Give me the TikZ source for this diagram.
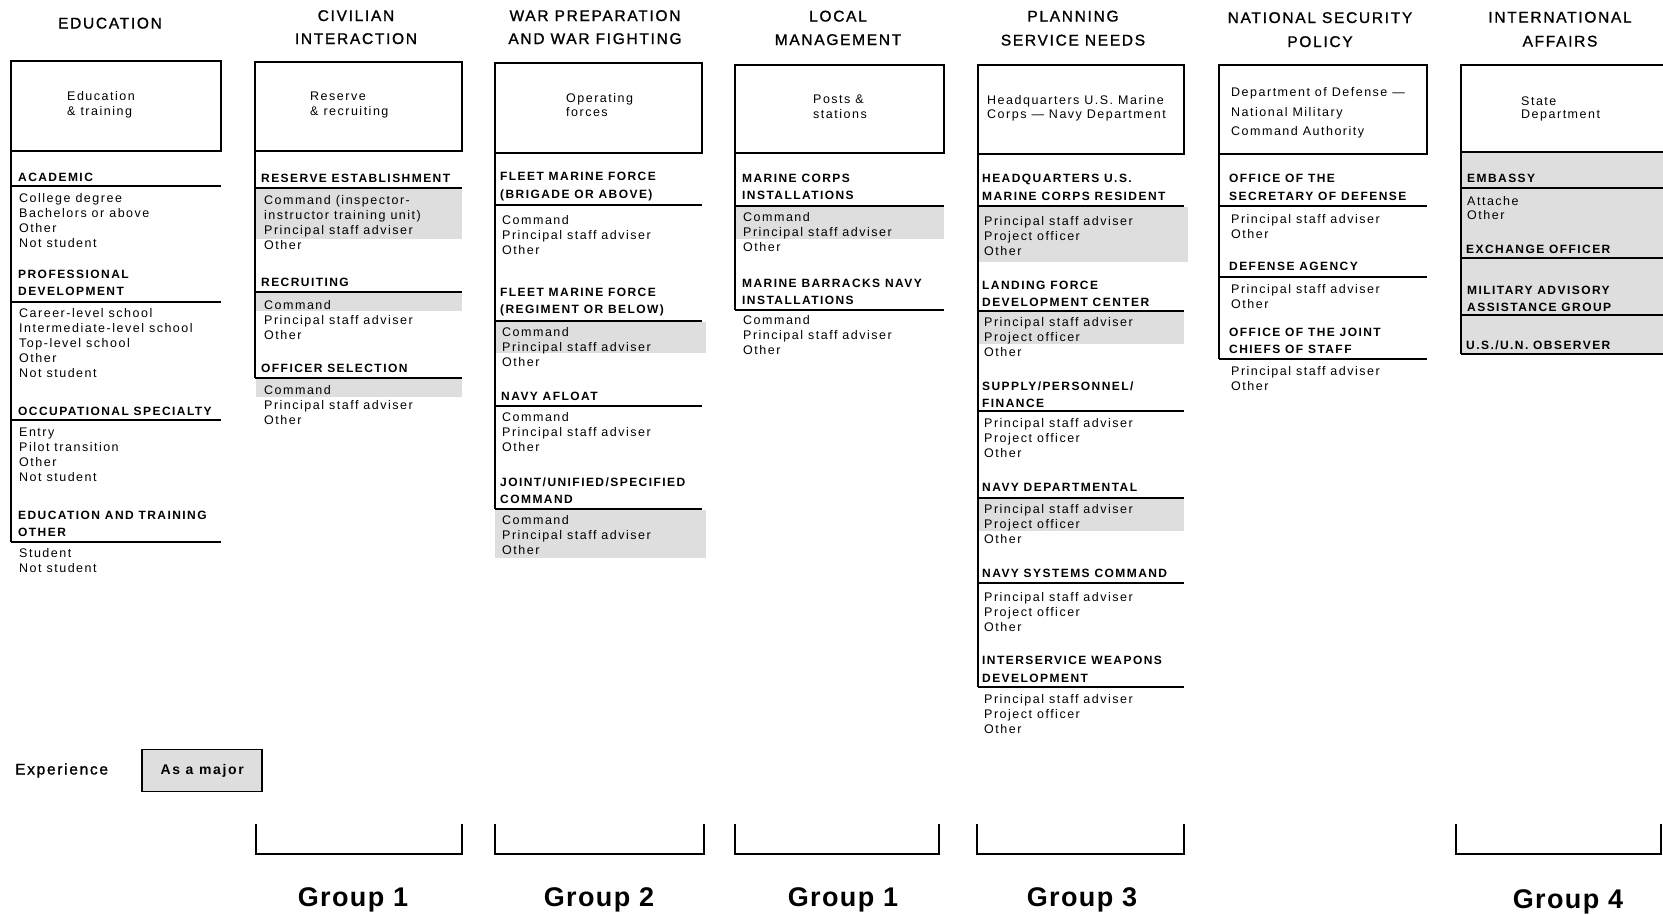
\documentclass[tikz,border=0pt]{standalone}
\usepackage{fontspec}
\newfontfamily\chartfont[LetterSpace=12]{Liberation Sans}
\newfontfamily\titlefont[LetterSpace=11, FakeBold=1.2]{Liberation Sans}
\newfontfamily\grpfont[LetterSpace=5]{Liberation Sans}
\usetikzlibrary{positioning}

\tikzset{
  ttl/.style={font=\titlefont\fontsize{15.5}{18}\selectfont, inner sep=0pt, anchor=base},
  btxt/.style={font=\chartfont\fontsize{12.5}{15}\selectfont, inner sep=0pt, anchor=base west},
  hd/.style={font=\chartfont\bfseries\fontsize{12}{14}\selectfont, inner sep=0pt, anchor=base west},
  itm/.style={font=\chartfont\fontsize{12.5}{15}\selectfont, inner sep=0pt, anchor=base west},
  grp/.style={font=\grpfont\bfseries\fontsize{27}{30}\selectfont, inner sep=0pt, anchor=base},
  major/.style={fill=black!13},
  boxline/.style={line width=1.8pt},
  underl/.style={line width=1.6pt},
}

\begin{document}
\begin{tikzpicture}[x=1pt, y=-1pt]
\useasboundingbox (0,0) rectangle (1663,914);

% shading: experience as a major
\fill[major] (256,189) rectangle (462,239);
\fill[major] (256,293) rectangle (462,311);
\fill[major] (256,379) rectangle (462,397);
\fill[major] (495,322) rectangle (706,353);
\fill[major] (495,510) rectangle (706,558);
\fill[major] (735,207) rectangle (944,239);
\fill[major] (978,207) rectangle (1188,262);
\fill[major] (978,312) rectangle (1184,344);
\fill[major] (978,499) rectangle (1184,531);
\fill[major] (1461,152) rectangle (1663,354);

% top boxes and left lines
\foreach \xl/\yt/\xr/\yb/\ye in {11/61/221/151/542, 255/62/462/151/378, 495/63/702/153/509,
    735/65/944/153/310, 978/65/1184/154/687, 1219/65/1427/154/359, 1461/65/1680/152/354} {
  \draw[boxline] (\xl,\yt) rectangle (\xr,\yb);
  \draw[boxline] (\xl,\yb) -- (\xl,\ye);
}
\foreach \xl/\xr/\ys in {11/221/{186,302,420,542}, 255/462/{188,292,378}, 495/702/{205,321,406,509},
    735/944/{206,310}, 978/1184/{206,311,411,498,583,687}, 1219/1427/{206,277,359},
    1461/1680/{188,258,315,354}}
  \foreach \y in \ys \draw[underl] (\xl,\y) -- (\xr,\y);

% titles
\node[ttl] (t1) at (110,28.5) {EDUCATION};
\node[ttl] (t2a) at (356,21) {CIVILIAN};
\node[ttl] (t2b) at (356,44) {INTERACTION};
\node[ttl] (t3a) at (595,21) {WAR PREPARATION};
\node[ttl] (t3b) at (595,44) {AND WAR FIGHTING};
\node[ttl] (t4a) at (838,21.5) {LOCAL};
\node[ttl] (t4b) at (838,45) {MANAGEMENT};
\node[ttl] (t5a) at (1073,21.5) {PLANNING};
\node[ttl] (t5b) at (1073,45.5) {SERVICE NEEDS};
\node[ttl] (t6a) at (1320,23) {NATIONAL SECURITY};
\node[ttl] (t6b) at (1320,47) {POLICY};
\node[ttl] (t7a) at (1560,22.5) {INTERNATIONAL};
\node[ttl] (t7b) at (1560,46.5) {AFFAIRS};

% education
\node[btxt] (c1b1) at (67,100.5) {Education};
\node[btxt] (c1b2) at (67,115.5) {\& training};
\node[hd] (c1h1) at (18,181.5) {ACADEMIC};
\foreach \s [count=\i] in {College degree, Bachelors or above, Other, Not student}
  \node[itm] (c1a\i) at (19,187.5+15*\i) {\s};
\node[hd] (c1h2) at (18,278.5) {PROFESSIONAL};
\node[hd] (c1h2b) at (18,295.5) {DEVELOPMENT};
\foreach \s [count=\i] in {Career-level school, Intermediate-level school, Top-level school, Other, Not student}
  \node[itm] (c1b\i) at (19,302.5+15*\i) {\s};
\node[hd] (c1h3) at (18,415.5) {OCCUPATIONAL SPECIALTY};
\foreach \s [count=\i] in {Entry, Pilot transition, Other, Not student}
  \node[itm] (c1c\i) at (19,421.5+15*\i) {\s};
\node[hd] (c1h4) at (18,519.5) {EDUCATION AND TRAINING};
\node[hd] (c1h4b) at (18,536.5) {OTHER};
\foreach \s [count=\i] in {Student, Not student}
  \node[itm] (c1d\i) at (19,542.5+15*\i) {\s};

% civilian interaction
\node[btxt] (c2b1) at (310,100.5) {Reserve};
\node[btxt] (c2b2) at (310,115.5) {\& recruiting};
\node[hd] (c2h1) at (261,182.5) {RESERVE ESTABLISHMENT};
\foreach \s [count=\i] in {Command (inspector-, instructor training unit), Principal staff adviser, Other}
  \node[itm] (c2a\i) at (264,189.5+15*\i) {\s};
\node[hd] (c2h2) at (261,286.5) {RECRUITING};
\foreach \s [count=\i] in {Command, Principal staff adviser, Other}
  \node[itm] (c2b\i) at (264,294.5+15*\i) {\s};
\node[hd] (c2h3) at (261,372.5) {OFFICER SELECTION};
\foreach \s [count=\i] in {Command, Principal staff adviser, Other}
  \node[itm] (c2c\i) at (264,379.5+15*\i) {\s};

% war preparation
\node[btxt] (c3b1) at (566,102.5) {Operating};
\node[btxt] (c3b2) at (566,116.5) {forces};
\node[hd] (c3h1) at (500,180.5) {FLEET MARINE FORCE};
\node[hd] (c3h1b) at (500,198.5) {(BRIGADE OR ABOVE)};
\foreach \s [count=\i] in {Command, Principal staff adviser, Other}
  \node[itm] (c3a\i) at (502,209.5+15*\i) {\s};
\node[hd] (c3h2) at (500,296.5) {FLEET MARINE FORCE};
\node[hd] (c3h2b) at (500,313.5) {(REGIMENT OR BELOW)};
\foreach \s [count=\i] in {Command, Principal staff adviser, Other}
  \node[itm] (c3b\i) at (502,321.5+15*\i) {\s};
\node[hd] (c3h3) at (501,400.5) {NAVY AFLOAT};
\foreach \s [count=\i] in {Command, Principal staff adviser, Other}
  \node[itm] (c3c\i) at (502,406.5+15*\i) {\s};
\node[hd] (c3h4) at (500,486.5) {JOINT/UNIFIED/SPECIFIED};
\node[hd] (c3h4b) at (500,503.5) {COMMAND};
\foreach \s [count=\i] in {Command, Principal staff adviser, Other}
  \node[itm] (c3d\i) at (502,509.5+15*\i) {\s};

% local management
\node[btxt] (c4b1) at (813,103) {Posts \&};
\node[btxt] (c4b2) at (813,118) {stations};
\node[hd] (c4h1) at (742,182.5) {MARINE CORPS};
\node[hd] (c4h1b) at (742,199.5) {INSTALLATIONS};
\foreach \s [count=\i] in {Command, Principal staff adviser, Other}
  \node[itm] (c4a\i) at (743,206.5+15*\i) {\s};
\node[hd] (c4h2) at (742,287.5) {MARINE BARRACKS NAVY};
\node[hd] (c4h2b) at (742,304.5) {INSTALLATIONS};
\foreach \s [count=\i] in {Command, Principal staff adviser, Other}
  \node[itm] (c4b\i) at (743,309.5+15*\i) {\s};

% planning service needs
\node[btxt] (c5b1) at (987,104) {Headquarters U.S. Marine};
\node[btxt] (c5b2) at (987,118) {Corps — Navy Department};
\node[hd] (c5h1) at (982,182.5) {HEADQUARTERS U.S.};
\node[hd] (c5h1b) at (982,200.5) {MARINE CORPS RESIDENT};
\foreach \s [count=\i] in {Principal staff adviser, Project officer, Other}
  \node[itm] (c5a\i) at (984,210.5+15*\i) {\s};
\node[hd] (c5h2) at (982,289.5) {LANDING FORCE};
\node[hd] (c5h2b) at (982,306.5) {DEVELOPMENT CENTER};
\foreach \s [count=\i] in {Principal staff adviser, Project officer, Other}
  \node[itm] (c5b\i) at (984,311.5+15*\i) {\s};
\node[hd] (c5h3) at (982,390.5) {SUPPLY/PERSONNEL/};
\node[hd] (c5h3b) at (982,407.5) {FINANCE};
\foreach \s [count=\i] in {Principal staff adviser, Project officer, Other}
  \node[itm] (c5c\i) at (984,412.5+15*\i) {\s};
\node[hd] (c5h4) at (982,491.5) {NAVY DEPARTMENTAL};
\foreach \s [count=\i] in {Principal staff adviser, Project officer, Other}
  \node[itm] (c5d\i) at (984,498.5+15*\i) {\s};
\node[hd] (c5h5) at (982,577.5) {NAVY SYSTEMS COMMAND};
\foreach \s [count=\i] in {Principal staff adviser, Project officer, Other}
  \node[itm] (c5e\i) at (984,586.5+15*\i) {\s};
\node[hd] (c5h6) at (982,664.5) {INTERSERVICE WEAPONS};
\node[hd] (c5h6b) at (982,682.5) {DEVELOPMENT};
\foreach \s [count=\i] in {Principal staff adviser, Project officer, Other}
  \node[itm] (c5f\i) at (984,688.5+15*\i) {\s};

% national security policy
\node[btxt] (c6b1) at (1231,96) {Department of Defense —};
\node[btxt] (c6b2) at (1231,116) {National Military};
\node[btxt] (c6b3) at (1231,135) {Command Authority};
\node[hd] (c6h1) at (1229,182.5) {OFFICE OF THE};
\node[hd] (c6h1b) at (1229,200.5) {SECRETARY OF DEFENSE};
\foreach \s [count=\i] in {Principal staff adviser, Other}
  \node[itm] (c6a\i) at (1231,208.5+15*\i) {\s};
\node[hd] (c6h2) at (1229,270.5) {DEFENSE AGENCY};
\foreach \s [count=\i] in {Principal staff adviser, Other}
  \node[itm] (c6b\i) at (1231,278.5+15*\i) {\s};
\node[hd] (c6h3) at (1229,336.5) {OFFICE OF THE JOINT};
\node[hd] (c6h3b) at (1229,353.5) {CHIEFS OF STAFF};
\foreach \s [count=\i] in {Principal staff adviser, Other}
  \node[itm] (c6c\i) at (1231,360.5+15*\i) {\s};

% international affairs
\node[btxt] (c7b1) at (1521,105) {State};
\node[btxt] (c7b2) at (1521,118.5) {Department};
\node[hd] (c7h1) at (1467,182.5) {EMBASSY};
\foreach \s [count=\i] in {Attache, Other}
  \node[itm] (c7a\i) at (1467,191+14*\i) {\s};
\node[hd] (c7h2) at (1466,253.5) {EXCHANGE OFFICER};
\node[hd] (c7h3) at (1467,294.5) {MILITARY ADVISORY};
\node[hd] (c7h3b) at (1467,311.5) {ASSISTANCE GROUP};
\node[hd] (c7h4) at (1466,349) {U.S./U.N. OBSERVER};

% legend
\node[ttl, anchor=base west] (exper) at (15,774.5) {Experience};
\node[draw, boxline, major, minimum width=120pt, minimum height=42pt,
  font=\chartfont\bfseries\fontsize{14}{16}\selectfont, right=33pt of exper] (asmajor) {As a major};

% groups
\foreach \xl/\xr/\gx/\gy/\g [count=\i] in {256/462/353/906/1, 495/704/599/906/2, 735/939/843/906/1,
    977/1184/1082/906/3, 1456/1661/1568/908/4} {
  \draw[boxline] (\xl,824) -- (\xl,854) -- (\xr,854) -- (\xr,824);
  \node[grp] (grp\i) at (\gx,\gy) {Group \g};
}
\end{tikzpicture}
\end{document}
